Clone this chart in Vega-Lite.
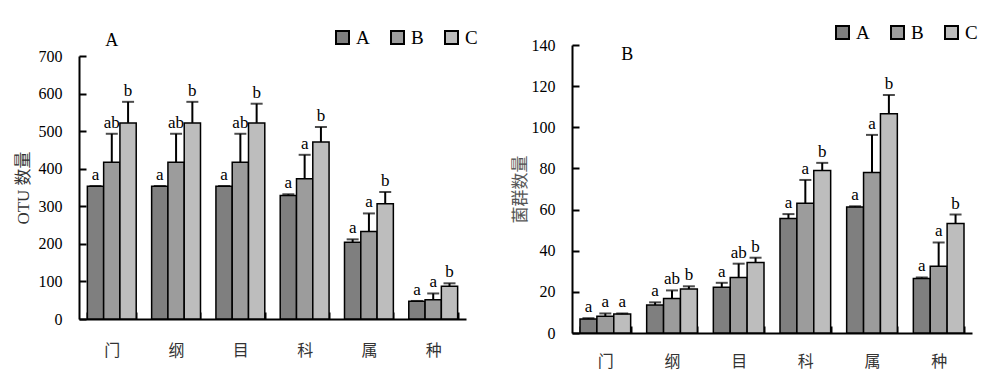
{
  "$schema": "https://vega.github.io/schema/vega-lite/v6.json",
  "padding": {"left": 14, "top": 23, "right": 0, "bottom": 12},
  "background": "white",
  "spacing": 33,
  "config": {
    "view": {"stroke": null},
    "axis": {"domainColor": "black", "domainWidth": 2, "tickColor": "black", "tickWidth": 2, "grid": false, "labelColor": "black", "titleColor": "#333333", "labelFont": "Liberation Serif"}
  },
  "datasets": {
    "otu": [
      {"level": "门", "group": "A", "mean": 353, "err": 354, "sig": "a"},
      {"level": "门", "group": "B", "mean": 417, "err": 493, "sig": "ab"},
      {"level": "门", "group": "C", "mean": 522, "err": 578, "sig": "b"},
      {"level": "纲", "group": "A", "mean": 353, "err": 354, "sig": "a"},
      {"level": "纲", "group": "B", "mean": 417, "err": 493, "sig": "ab"},
      {"level": "纲", "group": "C", "mean": 522, "err": 578, "sig": "b"},
      {"level": "目", "group": "A", "mean": 353, "err": 354, "sig": "a"},
      {"level": "目", "group": "B", "mean": 417, "err": 493, "sig": "ab"},
      {"level": "目", "group": "C", "mean": 522, "err": 573, "sig": "b"},
      {"level": "科", "group": "A", "mean": 329, "err": 332, "sig": "a"},
      {"level": "科", "group": "B", "mean": 373, "err": 437, "sig": "a"},
      {"level": "科", "group": "C", "mean": 471, "err": 511, "sig": "b"},
      {"level": "属", "group": "A", "mean": 204, "err": 212, "sig": "a"},
      {"level": "属", "group": "B", "mean": 233, "err": 281, "sig": "a"},
      {"level": "属", "group": "C", "mean": 307, "err": 338, "sig": "b"},
      {"level": "种", "group": "A", "mean": 47, "err": 48, "sig": "a"},
      {"level": "种", "group": "B", "mean": 51, "err": 68, "sig": "a"},
      {"level": "种", "group": "C", "mean": 87, "err": 95, "sig": "b"}
    ],
    "taxa": [
      {"level": "门", "group": "A", "mean": 6.8, "err": 7.2, "sig": "a"},
      {"level": "门", "group": "B", "mean": 8.1, "err": 9.5, "sig": "a"},
      {"level": "门", "group": "C", "mean": 9.2, "err": 9.5, "sig": "a"},
      {"level": "纲", "group": "A", "mean": 13.6, "err": 14.9, "sig": "a"},
      {"level": "纲", "group": "B", "mean": 16.8, "err": 20.7, "sig": "ab"},
      {"level": "纲", "group": "C", "mean": 21.4, "err": 22.7, "sig": "b"},
      {"level": "目", "group": "A", "mean": 22.3, "err": 24.4, "sig": "a"},
      {"level": "目", "group": "B", "mean": 27.0, "err": 33.7, "sig": "ab"},
      {"level": "目", "group": "C", "mean": 34.3, "err": 36.6, "sig": "b"},
      {"level": "科", "group": "A", "mean": 55.7, "err": 57.8, "sig": "a"},
      {"level": "科", "group": "B", "mean": 63.1, "err": 74.4, "sig": "a"},
      {"level": "科", "group": "C", "mean": 79.0, "err": 82.7, "sig": "b"},
      {"level": "属", "group": "A", "mean": 61.3, "err": 61.6, "sig": "a"},
      {"level": "属", "group": "B", "mean": 78.0, "err": 96.3, "sig": "a"},
      {"level": "属", "group": "C", "mean": 106.6, "err": 115.7, "sig": "b"},
      {"level": "种", "group": "A", "mean": 26.5, "err": 27.0, "sig": "a"},
      {"level": "种", "group": "B", "mean": 32.4, "err": 44.0, "sig": "a"},
      {"level": "种", "group": "C", "mean": 53.2, "err": 57.6, "sig": "b"}
    ]
  },
  "resolve": {"scale": {"y": "independent", "fill": "independent", "x": "independent", "xOffset": "independent"}, "legend": {"fill": "independent"}},
  "hconcat": [
    {
      "width": 387,
      "height": 288,
      "data": {"name": "otu"},
      "encoding": {
        "x": {"field": "level", "type": "nominal", "sort": ["门", "纲", "目", "科", "属", "种"],
          "scale": {"paddingInner": 0.24, "paddingOuter": 0.13},
          "axis": {"title": null, "labelAngle": 0, "offset": -14, "tickBand": "extent", "tickSize": -7, "labelPadding": 30, "labelFont": "Noto Sans CJK SC", "labelFontSize": 16, "labelColor": "#333333"}},
        "xOffset": {"field": "group", "type": "nominal", "sort": ["A", "B", "C"], "scale": {"paddingInner": 0, "paddingOuter": 0}}
      },
      "layer": [
        {
          "mark": {"type": "bar", "stroke": "black", "strokeWidth": 1.5},
          "encoding": {
            "y": {"field": "mean", "type": "quantitative",
              "scale": {"domain": [0, 700], "range": [274, 11], "nice": false},
              "axis": {"title": "OTU 数量", "values": [0, 100, 200, 300, 400, 500, 600, 700], "tickSize": -7, "labelPadding": 24, "labelFont": "Liberation Serif", "labelFontSize": 16, "titleFont": "Liberation Serif, Noto Sans CJK SC", "titleFontSize": 17, "titleFontWeight": "normal", "titlePadding": 6}},
            "fill": {"field": "group", "type": "nominal",
              "scale": {"domain": ["A", "B", "C"], "range": ["#7f7f7f", "#9c9c9c", "#bdbdbd"]},
              "legend": {"orient": "none", "legendX": 254, "legendY": -17, "direction": "horizontal", "title": null, "symbolType": "square", "symbolSize": 169, "symbolStrokeColor": "black", "symbolStrokeWidth": 2, "labelFont": "Liberation Serif", "labelFontSize": 19, "labelColor": "black", "labelOffset": 4, "columnPadding": 17, "padding": 0}}
          }
        },
        {
          "mark": {"type": "rule", "color": "black", "strokeWidth": 2},
          "encoding": {"y": {"field": "mean", "type": "quantitative"}, "y2": {"field": "err"}}
        },
        {
          "mark": {"type": "tick", "color": "black", "thickness": 2, "size": 12},
          "encoding": {"y": {"field": "err", "type": "quantitative"}}
        },
        {
          "mark": {"type": "text", "font": "Liberation Serif", "fontSize": 17, "color": "black", "baseline": "alphabetic", "dy": -6},
          "encoding": {"y": {"field": "err", "type": "quantitative"}, "text": {"field": "sig"}}
        },
        {
          "data": {"values": [{"panel": "A"}]},
          "mark": {"type": "text", "font": "Liberation Serif", "fontSize": 18, "color": "black", "baseline": "middle"},
          "encoding": {"x": {"datum": "门"}, "xOffset": null, "y": {"datum": 740, "type": "quantitative"}, "text": {"field": "panel"}}
        }
      ]
    },
    {
      "width": 400,
      "height": 288,
      "data": {"name": "taxa"},
      "encoding": {
        "x": {"field": "level", "type": "nominal", "sort": ["门", "纲", "目", "科", "属", "种"],
          "scale": {"paddingInner": 0.24, "paddingOuter": 0.12},
          "axis": {"title": null, "labelAngle": 0, "tickBand": "extent", "tickSize": -7, "labelPadding": 27, "labelFont": "Noto Sans CJK SC", "labelFontSize": 16, "labelColor": "#333333"}},
        "xOffset": {"field": "group", "type": "nominal", "sort": ["A", "B", "C"], "scale": {"paddingInner": 0, "paddingOuter": 0}}
      },
      "layer": [
        {
          "mark": {"type": "bar", "stroke": "black", "strokeWidth": 1.5},
          "encoding": {
            "y": {"field": "mean", "type": "quantitative",
              "scale": {"domain": [0, 140], "nice": false},
              "axis": {"title": "菌群数量", "values": [0, 20, 40, 60, 80, 100, 120, 140], "tickSize": -7, "labelPadding": 24, "labelFont": "Liberation Serif", "labelFontSize": 16, "titleFont": "Noto Sans CJK SC", "titleFontSize": 17, "titleFontWeight": "normal", "titleColor": "#555555", "titlePadding": 2}},
            "fill": {"field": "group", "type": "nominal",
              "scale": {"domain": ["A", "B", "C"], "range": ["#7f7f7f", "#9c9c9c", "#bdbdbd"]},
              "legend": {"orient": "none", "legendX": 261, "legendY": -22, "direction": "horizontal", "title": null, "symbolType": "square", "symbolSize": 169, "symbolStrokeColor": "black", "symbolStrokeWidth": 2, "labelFont": "Liberation Serif", "labelFontSize": 19, "labelColor": "black", "labelOffset": 4, "columnPadding": 17, "padding": 0}}
          }
        },
        {
          "mark": {"type": "rule", "color": "black", "strokeWidth": 2},
          "encoding": {"y": {"field": "mean", "type": "quantitative"}, "y2": {"field": "err"}}
        },
        {
          "mark": {"type": "tick", "color": "black", "thickness": 2, "size": 12},
          "encoding": {"y": {"field": "err", "type": "quantitative"}}
        },
        {
          "mark": {"type": "text", "font": "Liberation Serif", "fontSize": 17, "color": "black", "baseline": "alphabetic", "dy": -6},
          "encoding": {"y": {"field": "err", "type": "quantitative"}, "text": {"field": "sig"}}
        },
        {
          "data": {"values": [{"panel": "B"}]},
          "mark": {"type": "text", "font": "Liberation Serif", "fontSize": 18, "color": "black", "baseline": "middle", "dx": 22},
          "encoding": {"x": {"datum": "门"}, "xOffset": null, "y": {"datum": 135, "type": "quantitative"}, "text": {"field": "panel"}}
        }
      ]
    }
  ]
}
